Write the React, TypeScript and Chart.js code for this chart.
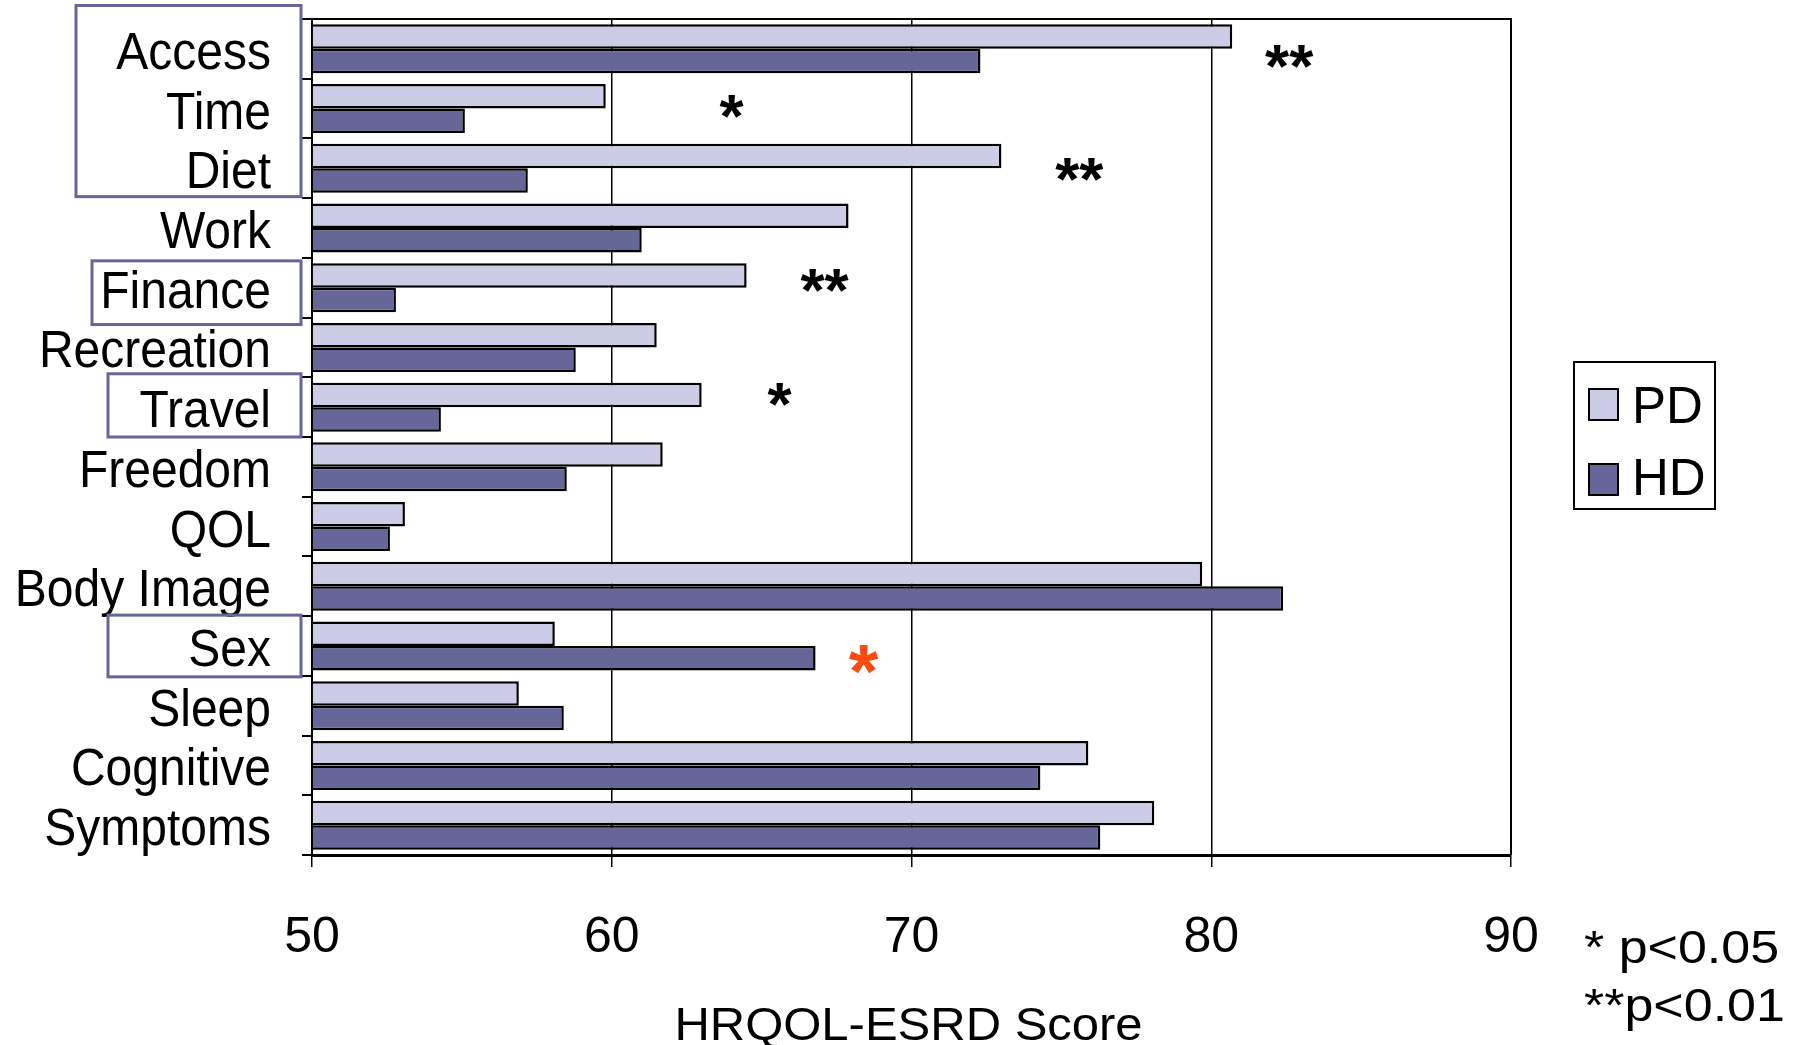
import React, { useEffect, useRef } from "react";
import { Chart, registerables } from "chart.js";

Chart.register(...registerables);

const categories = [
  "Access", "Time", "Diet", "Work", "Finance", "Recreation", "Travel",
  "Freedom", "QOL", "Body Image", "Sex", "Sleep", "Cognitive", "Symptoms",
];
const seriesNames = ["PD", "HD"];
const pdValues = [80.7, 59.8, 73.0, 67.9, 64.5, 61.5, 63.0, 61.7, 53.1, 79.7, 58.1, 56.9, 75.9, 78.1];
const hdValues = [72.3, 55.1, 57.2, 61.0, 52.8, 58.8, 54.3, 58.5, 52.6, 82.4, 66.8, 58.4, 74.3, 76.3];
const xMin = 50;
const xMax = 90;
const xStep = 10;
const axisTitle = "HRQOL-ESRD Score";

// significance markers
const sigCategory = ["Access", "Time", "Diet", "Finance", "Travel", "Sex"];
const sigLabel = ["**", "*", "**", "**", "*", "*"];
const sigX = [82.6, 64.0, 75.6, 67.1, 65.6, 68.4];
const sigYOffset = [0.13, -0.04, 0.02, -0.12, -0.22, 0.23];

// highlighted label groups (first, last category)
const highlightFrom = ["Access", "Finance", "Travel", "Sex"];
const highlightTo = ["Diet", "Finance", "Travel", "Sex"];

const footnotes = ["* p<0.05", "**p<0.01"];

const FONT = "'Liberation Sans', Arial, Helvetica, sans-serif";
const PD_COLOR = "#CCCCE6";
const HD_COLOR = "#666699";

function stretchedText(ctx: any, text: string, x: number, y: number, size: number, sx: number, sy: number, align: string, weight = "") {
  ctx.save();
  ctx.translate(x, y);
  ctx.scale(sx, sy);
  ctx.font = `${weight}${size}px ${FONT}`;
  ctx.textAlign = align;
  ctx.textBaseline = "alphabetic";
  ctx.fillText(text, 0, 0);
  ctx.restore();
}

export default function App() {
  const ref = useRef<HTMLCanvasElement>(null);

  useEffect(() => {
    const canvas = ref.current;
    if (!canvas) return;

    const overlay = {
      id: "overlay",
      afterDatasetsDraw(chart: any) {
        const { ctx, chartArea } = chart;
        ctx.save();
        ctx.strokeStyle = "#000";
        ctx.lineWidth = 2;
        ctx.beginPath();
        ctx.moveTo(chartArea.left, chartArea.top);
        ctx.lineTo(chartArea.right, chartArea.top);
        ctx.lineTo(chartArea.right, chartArea.bottom);
        ctx.stroke();
        ctx.restore();
      },
      afterDraw(chart: any) {
        const { ctx, chartArea } = chart;
        const xs = chart.scales.x;
        const ys = chart.scales.y;
        const band = ys.getPixelForValue(1) - ys.getPixelForValue(0);

        // category labels (slightly tall glyphs, as in the original)
        ctx.save();
        ctx.fillStyle = "#000";
        categories.forEach((c, i) => {
          stretchedText(ctx, c, 271, ys.getPixelForValue(i) + 20, 48, 1, 1.08, "right");
        });
        ctx.restore();

        // axis title
        ctx.save();
        ctx.fillStyle = "#000";
        stretchedText(ctx, axisTitle, (chartArea.left + chartArea.right) / 2 - 3, 1040, 46, 1.065, 1, "center");
        ctx.restore();

        // significance asterisks
        ctx.save();
        sigLabel.forEach((lbl, i) => {
          const idx = categories.indexOf(sigCategory[i]);
          const reverse = hdValues[idx] > pdValues[idx];
          const size = reverse ? 76 : 62;
          ctx.font = `bold ${size}px ${FONT}`;
          ctx.fillStyle = reverse ? "#FF4A12" : "#000";
          ctx.textAlign = "center";
          ctx.textBaseline = "alphabetic";
          const m = ctx.measureText(lbl);
          const cx = xs.getPixelForValue(sigX[i]);
          const cy = ys.getPixelForValue(idx) + sigYOffset[i] * band;
          const base = cy + (m.actualBoundingBoxAscent - m.actualBoundingBoxDescent) / 2;
          ctx.fillText(lbl, cx, base);
        });
        ctx.restore();

        // highlight boxes around labels
        const boxLeft = [76, 92, 108, 108];
        const boxTopAdj = [-13.5, 3, -3.5, -1];
        const boxBotAdj = [-1.5, 7, 0, 1];
        ctx.save();
        ctx.strokeStyle = HD_COLOR;
        ctx.lineWidth = 3;
        highlightFrom.forEach((from, i) => {
          const a = categories.indexOf(from);
          const b = categories.indexOf(highlightTo[i]);
          const top = ys.getPixelForValue(a) - band / 2 + boxTopAdj[i];
          const bot = ys.getPixelForValue(b) + band / 2 + boxBotAdj[i];
          ctx.strokeRect(boxLeft[i], top, 301 - boxLeft[i], bot - top);
        });
        ctx.restore();

        // legend
        ctx.save();
        ctx.strokeStyle = "#000";
        ctx.lineWidth = 2;
        ctx.strokeRect(1574, 362, 141, 147);
        const colors = [PD_COLOR, HD_COLOR];
        const swY = [389, 464];
        const txY = [423, 495];
        seriesNames.forEach((name, i) => {
          ctx.fillStyle = colors[i];
          ctx.fillRect(1589, swY[i], 29, 31);
          ctx.strokeRect(1589, swY[i], 29, 31);
          ctx.fillStyle = "#000";
          ctx.font = `51px ${FONT}`;
          ctx.textAlign = "left";
          ctx.textBaseline = "alphabetic";
          ctx.fillText(name, 1632, txY[i]);
        });
        ctx.restore();

        // footnotes (slightly wide glyphs, as in the original)
        ctx.save();
        ctx.fillStyle = "#000";
        footnotes.forEach((t, i) => {
          stretchedText(ctx, t, 1584, 963 + i * 58, 46, 1.13, 1, "left");
        });
        ctx.restore();
      },
    };

    const chart = new Chart(canvas, {
      type: "bar",
      data: {
        labels: categories,
        datasets: [
          {
            label: seriesNames[0],
            data: pdValues,
            backgroundColor: PD_COLOR,
            borderColor: "#000",
            borderWidth: 2.5,
            base: xMin,
            categoryPercentage: 0.82,
            barPercentage: 1,
          } as any,
          {
            label: seriesNames[1],
            data: hdValues,
            backgroundColor: HD_COLOR,
            borderColor: "#000",
            borderWidth: 2.5,
            base: xMin,
            categoryPercentage: 0.82,
            barPercentage: 1,
          } as any,
        ],
      },
      options: {
        indexAxis: "y",
        responsive: false,
        animation: false,
        devicePixelRatio: 1,
        layout: { padding: { left: 0, right: 289, top: 19, bottom: 0 } },
        plugins: {
          legend: { display: false },
          tooltip: { enabled: false },
        },
        scales: {
          x: {
            type: "linear",
            min: xMin,
            max: xMax,
            ticks: {
              stepSize: xStep,
              color: "#000",
              font: { family: FONT, size: 50 },
              padding: 41,
            },
            grid: { color: "#000", lineWidth: 1.5, tickLength: 12 },
            border: { display: true, color: "#000", width: 3 },
            title: { display: false },
            afterFit: (s: any) => {
              s.height = 190;
            },
          } as any,
          y: {
            ticks: {
              display: false,
              autoSkip: false,
            },
            grid: {
              offset: true,
              drawOnChartArea: false,
              color: "#000",
              lineWidth: 2,
              tickLength: 10,
            },
            border: { display: true, color: "#000", width: 2 },
            afterFit: (s: any) => {
              s.width = 312;
              s.paddingTop = 0;
              s.paddingBottom = 0;
            },
          } as any,
        },
      },
      plugins: [overlay],
    });

    return () => chart.destroy();
  }, []);

  return (
    <div style={{ position: "absolute", left: 0, top: 0, width: 1800, height: 1045, background: "#fff" }}>
      <canvas ref={ref} width={1800} height={1045} style={{ display: "block" }} />
    </div>
  );
}
